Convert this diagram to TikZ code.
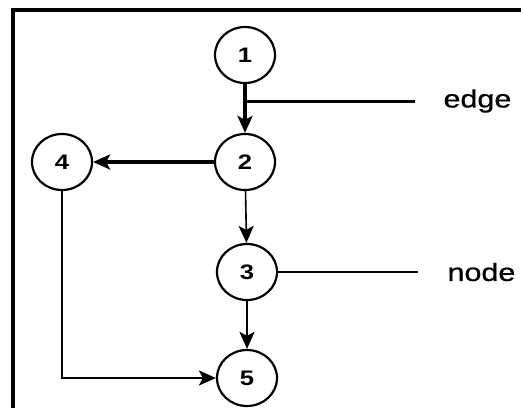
\documentclass[tikz,border=0pt]{standalone}
\usepackage{fontspec}
\setmainfont{Liberation Sans}
\newfontfamily\heavysans[FakeBold=0.6]{Liberation Sans}
\usetikzlibrary{shapes.geometric,arrows.meta}
\newcommand{\wide}[1]{\scalebox{1.22}[1]{#1}}
\begin{document}
\begin{tikzpicture}[x=1pt,y=-1pt,
  vert/.style={ellipse,draw,line width=2.2pt,minimum width=60pt,minimum height=56pt,inner sep=0pt,font=\fontsize{21}{21}\selectfont\bfseries},
  arr/.style={-{Stealth[length=17pt,width=15pt,inset=4pt]}},
  lbl/.style={font=\fontsize{25}{25}\heavysans,anchor=west}]
\useasboundingbox (0,0) rectangle (521,407);
\fill[white] (0,0) rectangle (521,407);
% frame
\draw[line width=3.5pt] (13,420) -- (13,10) -- (530,10);
% nodes
\node[vert] (n1) at (245,55) {\wide{1}};
\node[vert] (n2) at (245,162) {\wide{2}};
\node[vert] (n4) at (62,162) {\wide{4}};
\node[vert] (n3) at (247,272) {\wide{3}};
\node[vert] (n5) at (247,378) {\wide{5}};
% edges
\draw[arr,line width=3.5pt] (n1) -- (n2);
\draw[arr,line width=3.5pt] (n2) -- (n4);
\draw[arr,line width=1.6pt] (n2) -- (n3);
\draw[arr,line width=2.4pt] (n3) -- (n5);
\coordinate (c45) at (n4.south |- n5.west);
\draw[arr,line width=2.4pt] (n4.south) -- (c45) -- (n5.west);
% labels
\coordinate (e1) at (245,101);
\node[lbl] (edgelbl) at (440,101) {\wide{edge}};
\draw[line width=3pt] (e1) -- (415,101) coordinate (e2);
\node[lbl] (nodelbl) at (444,272) {\wide{node}};
\draw[line width=1.6pt] (n3.east) -- (418,272) coordinate (n3e);
\end{tikzpicture}
\end{document}
